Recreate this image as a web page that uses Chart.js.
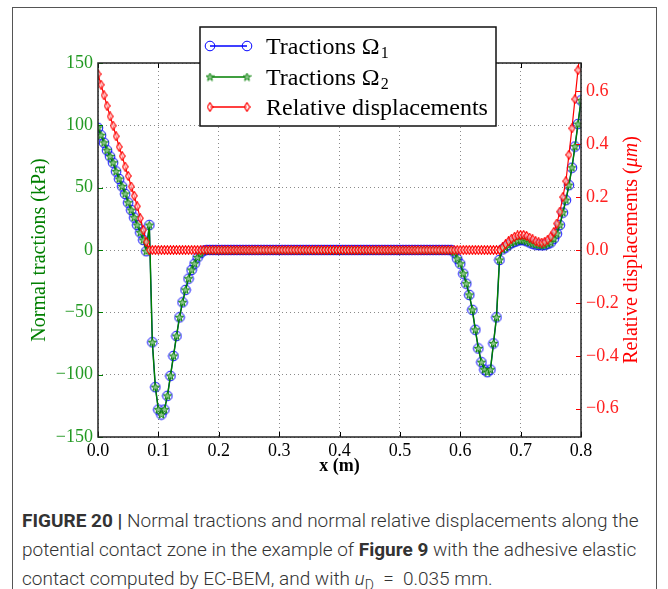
<!DOCTYPE html>
<html>
<head>
<meta charset="utf-8">
<script src="https://cdn.jsdelivr.net/npm/chart.js@4.4.1/dist/chart.umd.min.js"></script>
<style>
  html, body { margin: 0; padding: 0; background: #fff; }
  #page { position: relative; width: 668px; height: 589px; overflow: hidden; }
  #frame { position: absolute; left: 12px; top: 7px; width: 643px; height: 640px; border: 1px solid #555; }
  #plot { position: absolute; left: 0; top: 0; }
  #caption {
    position: absolute; left: 22px; top: 506px; width: 640px;
    font-family: Roboto, 'Liberation Sans', sans-serif; font-weight: 300;
    font-size: 19px; line-height: 29px; color: #333;
  }
  #caption b { font-weight: 700; }
</style>
</head>
<body>
<div id="page">
  <div id="frame"></div>
  <canvas id="plot" width="668" height="490"></canvas>
  <div id="caption"><b>FIGURE 20 |</b> Normal tractions and normal relative displacements along the potential contact zone in the example of <b>Figure 9</b> with the adhesive elastic contact computed by EC-BEM, and with <i>u</i><sub style="font-size:14px">D</sub>&nbsp;&nbsp;=&nbsp;&nbsp;0.035 mm.</div>
</div>
<script>
// x positions of the nodes (m)
const xs = [
  0, 0.005, 0.01, 0.015, 0.02, 0.025, 0.03, 0.035, 0.04, 0.045, 0.05, 0.055, 0.06, 0.065, 0.07, 0.075, 0.08, 0.085, 0.09, 0.095,
  0.1, 0.105, 0.11, 0.115, 0.12, 0.125, 0.13, 0.135, 0.14, 0.145, 0.15, 0.155, 0.16, 0.165, 0.17, 0.175, 0.18, 0.185, 0.19, 0.195,
  0.2, 0.205, 0.21, 0.215, 0.22, 0.225, 0.23, 0.235, 0.24, 0.245, 0.25, 0.255, 0.26, 0.265, 0.27, 0.275, 0.28, 0.285, 0.29, 0.295,
  0.3, 0.305, 0.31, 0.315, 0.32, 0.325, 0.33, 0.335, 0.34, 0.345, 0.35, 0.355, 0.36, 0.365, 0.37, 0.375, 0.38, 0.385, 0.39, 0.395,
  0.4, 0.405, 0.41, 0.415, 0.42, 0.425, 0.43, 0.435, 0.44, 0.445, 0.45, 0.455, 0.46, 0.465, 0.47, 0.475, 0.48, 0.485, 0.49, 0.495,
  0.5, 0.505, 0.51, 0.515, 0.52, 0.525, 0.53, 0.535, 0.54, 0.545, 0.55, 0.555, 0.56, 0.565, 0.57, 0.575, 0.58, 0.585, 0.59, 0.595,
  0.6, 0.605, 0.61, 0.615, 0.62, 0.625, 0.63, 0.635, 0.64, 0.645, 0.65, 0.655, 0.66, 0.665, 0.67, 0.675, 0.68, 0.685, 0.69, 0.695,
  0.7, 0.705, 0.71, 0.715, 0.72, 0.725, 0.73, 0.735, 0.74, 0.745, 0.75, 0.755, 0.76, 0.765, 0.77, 0.775, 0.78, 0.785, 0.79, 0.795,
  0.8
];

// normal tractions (kPa), left axis
const tractionsOmega1 = [
  98, 92, 86, 80, 75, 70, 63, 57, 51, 45, 38, 32, 26, 20, 14, 8, -1, 20, -74, -110,
  -128, -132, -128, -117, -101, -85, -69, -54, -42, -32, -23, -16, -11, -6, -2.5, -0.5, 0, 0, 0, 0,
  0, 0, 0, 0, 0, 0, 0, 0, 0, 0, 0, 0, 0, 0, 0, 0, 0, 0, 0, 0,
  0, 0, 0, 0, 0, 0, 0, 0, 0, 0, 0, 0, 0, 0, 0, 0, 0, 0, 0, 0,
  0, 0, 0, 0, 0, 0, 0, 0, 0, 0, 0, 0, 0, 0, 0, 0, 0, 0, 0, 0,
  0, 0, 0, 0, 0, 0, 0, 0, 0, 0, 0, 0, 0, 0, 0, 0, 0, 0, -2, -7,
  -11, -19, -27, -36, -48, -64, -79, -90, -96, -98, -96, -75, -54, -8, 0.5, 2, 4, 5.5, 6.5, 7.5,
  8, 7.8, 7, 6, 5, 4.3, 4, 3.8, 4, 5, 6, 9, 13, 20, 30, 40, 52, 66, 83, 101,
  120
];
const tractionsOmega2 = [
  98, 92, 86, 80, 75, 70, 63, 57, 51, 45, 38, 32, 26, 20, 14, 8, -1, 20, -74, -110,
  -128, -132, -128, -117, -101, -85, -69, -54, -42, -32, -23, -16, -11, -6, -2.5, -0.5, 0, 0, 0, 0,
  0, 0, 0, 0, 0, 0, 0, 0, 0, 0, 0, 0, 0, 0, 0, 0, 0, 0, 0, 0,
  0, 0, 0, 0, 0, 0, 0, 0, 0, 0, 0, 0, 0, 0, 0, 0, 0, 0, 0, 0,
  0, 0, 0, 0, 0, 0, 0, 0, 0, 0, 0, 0, 0, 0, 0, 0, 0, 0, 0, 0,
  0, 0, 0, 0, 0, 0, 0, 0, 0, 0, 0, 0, 0, 0, 0, 0, 0, 0, -2, -7,
  -11, -19, -27, -36, -48, -64, -79, -90, -96, -98, -96, -75, -54, -8, 0.5, 2, 4, 5.5, 6.5, 7.5,
  8, 7.8, 7, 6, 5, 4.3, 4, 3.8, 4, 5, 6, 9, 13, 20, 30, 40, 52, 66, 83, 101,
  120
];

// normal relative displacements (um), right axis
const relDisplacements = [
  0.665, 0.625, 0.585, 0.545, 0.505, 0.47, 0.43, 0.39, 0.355, 0.315, 0.28, 0.24, 0.205, 0.165, 0.12, 0.075, 0.03, 0, 0, 0,
  0, 0, 0, 0, 0, 0, 0, 0, 0, 0, 0, 0, 0, 0, 0, 0, 0, 0, 0, 0,
  0, 0, 0, 0, 0, 0, 0, 0, 0, 0, 0, 0, 0, 0, 0, 0, 0, 0, 0, 0,
  0, 0, 0, 0, 0, 0, 0, 0, 0, 0, 0, 0, 0, 0, 0, 0, 0, 0, 0, 0,
  0, 0, 0, 0, 0, 0, 0, 0, 0, 0, 0, 0, 0, 0, 0, 0, 0, 0, 0, 0,
  0, 0, 0, 0, 0, 0, 0, 0, 0, 0, 0, 0, 0, 0, 0, 0, 0, 0, 0, 0,
  0, 0, 0, 0, 0, 0, 0, 0, 0, 0, 0, 0, 0, 0, 0.01, 0.022, 0.033, 0.043, 0.05, 0.055,
  0.057, 0.057, 0.053, 0.047, 0.04, 0.033, 0.029, 0.028, 0.031, 0.039, 0.05, 0.068, 0.1, 0.145, 0.2, 0.26, 0.36, 0.46, 0.57, 0.68,
  0.79
];

const xTicks = [0, 0.1, 0.2, 0.3, 0.4, 0.5, 0.6, 0.7, 0.8];
const leftTicks = [-150, -100, -50, 0, 50, 100, 150];
const rightTicks = [-0.6, -0.4, -0.2, 0, 0.2, 0.4, 0.6];

const seriesNames = ['Tractions \u03A9', 'Tractions \u03A9', 'Relative displacements'];
const seriesSubs = ['1', '2', ''];

const BLUE = '#0000ff';
const GREEN = '#007f00';
const RED = '#ff0000';
const SERIF = '"Liberation Serif", "DejaVu Serif", serif';

// --- marker images ---
function circleMarker() {
    const c = document.createElement('canvas');
    c.width = c.height = 12;
    const g = c.getContext('2d');
    g.beginPath();
    g.arc(6, 6, 4.8, 0, Math.PI * 2);
    g.strokeStyle = BLUE;
    g.lineWidth = 1;
    g.stroke();
    return c;
}

function starMarker() {
    const c = document.createElement('canvas');
    c.width = c.height = 9;
    const g = c.getContext('2d');
    const R = 4.2, r = 1.8;
    g.beginPath();
    for (let i = 0; i < 10; i++) {
        const a = -Math.PI / 2 + i * Math.PI / 5;
        const rad = i % 2 ? r : R;
        g.lineTo(4.5 + rad * Math.cos(a), 4.7 + rad * Math.sin(a));
    }
    g.closePath();
    g.fillStyle = '#8cc48c';
    g.fill();
    g.strokeStyle = GREEN;
    g.lineWidth = 0.9;
    g.stroke();
    return c;
}

function diamondMarker() {
    const c = document.createElement('canvas');
    c.width = 7;
    c.height = 10;
    const g = c.getContext('2d');
    g.beginPath();
    g.moveTo(3.5, 0.7);
    g.lineTo(6.2, 5);
    g.lineTo(3.5, 9.3);
    g.lineTo(0.8, 5);
    g.closePath();
    g.fillStyle = 'rgba(255,255,255,0.55)';
    g.fill();
    g.strokeStyle = RED;
    g.lineWidth = 1.2;
    g.stroke();
    return c;
}

const markers = [circleMarker(), starMarker(), diamondMarker()];
const colors = [BLUE, GREEN, RED];

function points(values) {
    return xs.map((x, i) => ({ x: x, y: values[i] }));
}

function signed(v, digits) {
    const s = digits === undefined ? String(Math.abs(v)) : Math.abs(v).toFixed(digits);
    return (v < -1e-9 ? '\u2212' : '') + s;
}

// --- axis titles, inward ticks, frame and legend ---
const decorations = {
    id: 'decorations',
    afterDraw(chart) {
        const { ctx, chartArea: a, scales } = chart;
        ctx.save();

        // inward tick marks
        ctx.lineWidth = 1;
        ctx.strokeStyle = '#000';
        xTicks.forEach(v => {
            const px = Math.round(scales.x.getPixelForValue(v)) + 0.5;
            ctx.beginPath();
            ctx.moveTo(px, a.bottom); ctx.lineTo(px, a.bottom - 5);
            ctx.moveTo(px, a.top); ctx.lineTo(px, a.top + 5);
            ctx.stroke();
        });
        ctx.strokeStyle = GREEN;
        leftTicks.forEach(v => {
            const py = Math.round(scales.y.getPixelForValue(v)) + 0.5;
            ctx.beginPath();
            ctx.moveTo(a.left, py); ctx.lineTo(a.left + 5, py);
            ctx.stroke();
        });
        ctx.strokeStyle = RED;
        rightTicks.forEach(v => {
            const py = Math.round(scales.y1.getPixelForValue(v)) + 0.5;
            ctx.beginPath();
            ctx.moveTo(a.right, py); ctx.lineTo(a.right - 5, py);
            ctx.stroke();
        });

        // plot frame
        ctx.strokeStyle = '#222';
        ctx.lineWidth = 1.5;
        ctx.strokeRect(a.left, a.top, a.right - a.left, a.bottom - a.top);

        // axis titles
        const midY = (a.top + a.bottom) / 2;
        ctx.textBaseline = 'middle';
        ctx.textAlign = 'center';
        ctx.fillStyle = '#000';
        ctx.font = 'bold 18px ' + SERIF;
        ctx.fillText('x (m)', (a.left + a.right) / 2, 466);

        ctx.save();
        ctx.translate(40, midY);
        ctx.rotate(-Math.PI / 2);
        ctx.fillStyle = GREEN;
        ctx.font = '20px ' + SERIF;
        ctx.fillText('Normal tractions (kPa)', 0, 0);
        ctx.restore();

        ctx.save();
        ctx.translate(632, midY);
        ctx.rotate(-Math.PI / 2);
        ctx.fillStyle = RED;
        ctx.textAlign = 'left';
        const parts = [['Relative displacements (', '20px '], ['\u03BCm', 'italic 20px '], [')', '20px ']];
        let total = 0;
        parts.forEach(p => { ctx.font = p[1] + SERIF; total += ctx.measureText(p[0]).width; });
        let cx = -total / 2;
        parts.forEach(p => {
            ctx.font = p[1] + SERIF;
            ctx.fillText(p[0], cx, 0);
            cx += ctx.measureText(p[0]).width;
        });
        ctx.restore();

        // legend
        const box = { x: 200, y: 27, w: 296, h: 99 };
        ctx.fillStyle = '#fff';
        ctx.fillRect(box.x, box.y, box.w, box.h);
        ctx.strokeStyle = '#111';
        ctx.lineWidth = 1.5;
        ctx.strokeRect(box.x, box.y, box.w, box.h);
        const rowY = [46, 77, 107];
        ctx.textAlign = 'left';
        ctx.textBaseline = 'alphabetic';
        seriesNames.forEach((name, i) => {
            const y = rowY[i];
            ctx.strokeStyle = colors[i];
            ctx.lineWidth = 1.3;
            ctx.beginPath();
            ctx.moveTo(210, y); ctx.lineTo(247, y);
            ctx.stroke();
            const m = markers[i];
            ctx.drawImage(m, 210 - m.width / 2, y - m.height / 2);
            ctx.drawImage(m, 247 - m.width / 2, y - m.height / 2);
            ctx.fillStyle = '#000';
            ctx.font = '24px ' + SERIF;
            ctx.fillText(name, 266, y + 8);
            if (seriesSubs[i]) {
                const w = ctx.measureText(name).width;
                ctx.font = '16px ' + SERIF;
                ctx.fillText(seriesSubs[i], 266 + w + 1, y + 12);
            }
        });
        ctx.restore();
    }
};

new Chart(document.getElementById('plot'), {
    type: 'line',
    data: {
        datasets: [
            {
                label: 'Relative displacements',
                data: points(relDisplacements),
                yAxisID: 'y1',
                borderColor: RED,
                borderWidth: 1.2,
                pointStyle: markers[2],
                order: 0
            },
            {
                label: 'Tractions Omega2',
                data: points(tractionsOmega2),
                yAxisID: 'y',
                borderColor: GREEN,
                borderWidth: 1.5,
                pointStyle: markers[1],
                order: 1
            },
            {
                label: 'Tractions Omega1',
                data: points(tractionsOmega1),
                yAxisID: 'y',
                borderColor: BLUE,
                borderWidth: 1.2,
                pointStyle: markers[0],
                order: 2
            }
        ]
    },
    options: {
        responsive: false,
        animation: false,
        devicePixelRatio: 1,
        layout: { padding: { left: 30, top: 63, right: 0, bottom: 0 } },
        elements: { line: { tension: 0, fill: false } },
        plugins: {
            legend: { display: false },
            tooltip: { enabled: false }
        },
        scales: {
            x: {
                type: 'linear',
                min: 0,
                max: 0.8,
                afterFit: s => { s.height = 53; },
                afterBuildTicks: s => { s.ticks = xTicks.map(v => ({ value: v })); },
                grid: { color: '#8a8a8a', lineWidth: 1, drawTicks: false },
                border: { display: false, dash: [1, 3] },
                ticks: {
                    padding: 3,
                    color: '#000',
                    maxRotation: 0,
                    font: { family: SERIF, size: 18 },
                    callback: v => v.toFixed(1)
                }
            },
            y: {
                position: 'left',
                min: -150,
                max: 150,
                afterFit: s => { s.width = 68; },
                afterBuildTicks: s => { s.ticks = leftTicks.map(v => ({ value: v })); },
                grid: { color: '#8a8a8a', lineWidth: 1, drawTicks: false },
                border: { display: false, dash: [1, 3] },
                ticks: {
                    padding: 5,
                    color: '#229922',
                    font: { family: SERIF, size: 18 },
                    callback: v => signed(v)
                }
            },
            y1: {
                position: 'right',
                min: -0.707,
                max: 0.707,
                afterFit: s => { s.width = 87; },
                afterBuildTicks: s => { s.ticks = rightTicks.map(v => ({ value: v })); },
                grid: { display: false, drawTicks: false },
                border: { display: false },
                ticks: {
                    padding: 5,
                    color: '#ff2020',
                    font: { family: SERIF, size: 18 },
                    callback: v => signed(v, 1)
                }
            }
        }
    },
    plugins: [decorations]
});
</script>
</body>
</html>
